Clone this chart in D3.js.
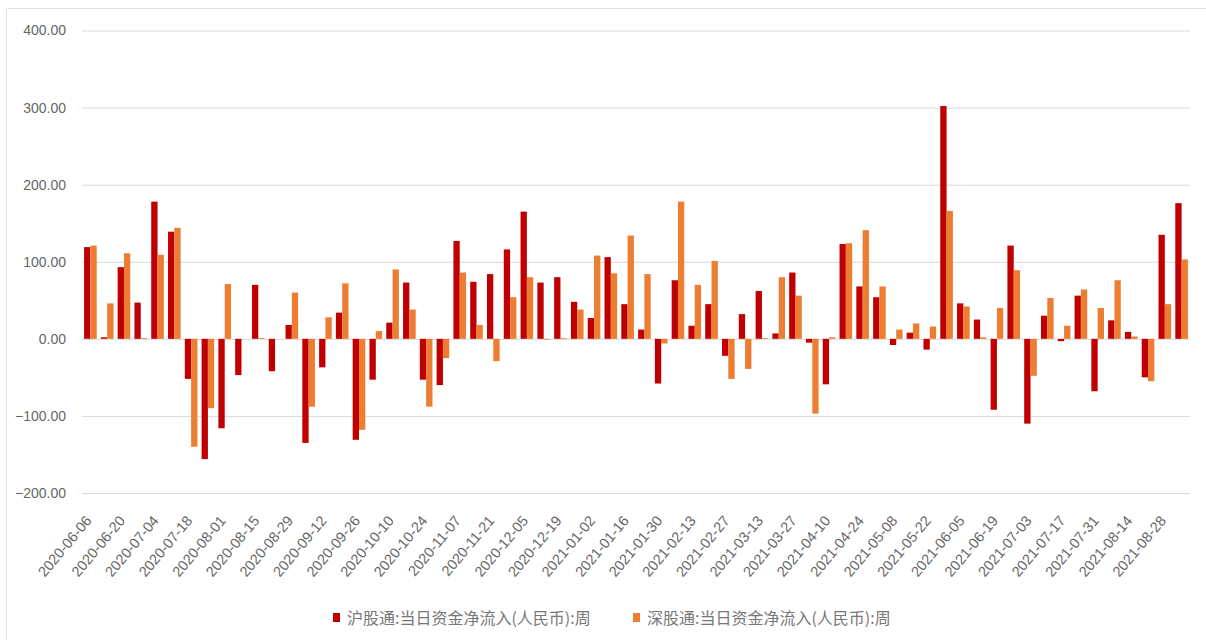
<!DOCTYPE html>
<html>
<head>
<meta charset="utf-8">
<script src="https://cdn.jsdelivr.net/npm/d3@7"></script>
<style>
  html, body { margin: 0; padding: 0; background: #fff; }
  svg { display: block; }
</style>
</head>
<body>
<svg id="chart" width="1206" height="640"></svg>
<script>
// weekly dates (category axis)
const weeks = [
  "2020-06-06", "2020-06-13", "2020-06-20", "2020-06-27", "2020-07-04", "2020-07-11",
  "2020-07-18", "2020-07-25", "2020-08-01", "2020-08-08", "2020-08-15", "2020-08-22",
  "2020-08-29", "2020-09-05", "2020-09-12", "2020-09-19", "2020-09-26", "2020-10-03",
  "2020-10-10", "2020-10-17", "2020-10-24", "2020-10-31", "2020-11-07", "2020-11-14",
  "2020-11-21", "2020-11-28", "2020-12-05", "2020-12-12", "2020-12-19", "2020-12-26",
  "2021-01-02", "2021-01-09", "2021-01-16", "2021-01-23", "2021-01-30", "2021-02-06",
  "2021-02-13", "2021-02-20", "2021-02-27", "2021-03-06", "2021-03-13", "2021-03-20",
  "2021-03-27", "2021-04-03", "2021-04-10", "2021-04-17", "2021-04-24", "2021-05-01",
  "2021-05-08", "2021-05-15", "2021-05-22", "2021-05-29", "2021-06-05", "2021-06-12",
  "2021-06-19", "2021-06-26", "2021-07-03", "2021-07-10", "2021-07-17", "2021-07-24",
  "2021-07-31", "2021-08-07", "2021-08-14", "2021-08-21", "2021-08-28", "2021-09-04"
];

// 沪股通 weekly net inflow
const shValues = [
  119, 2, 93, 47, 178, 139, -52, -156, -116, -47, 70, -42,
  18, -135, -37, 34, -131, -53, 21, 73, -53, -60, 127, 74,
  84, 116, 165, 73, 80, 48, 27, 106, 45, 12, -58, 76,
  17, 45, -22, 32, 62, 7, 86, -5, -59, 123, 68, 54,
  -8, 8, -14, 302, 46, 25, -92, 121, -110, 30, -3, 56,
  -68, 24, 9, -50, 135, 176
];

// 深股通 weekly net inflow
const szValues = [
  121, 46, 111, 1, 109, 144, -140, -90, 71, 0, 1, 0,
  60, -88, 28, 72, -118, 10, 90, 38, -88, -25, 86, 18,
  -29, 54, 80, -1, 1, 38, 108, 85, 134, 84, -6, 178,
  70, 101, -52, -39, 1, 80, 56, -97, 2, 124, 141, 68,
  12, 20, 16, 166, 42, 2, 40, 89, -48, 53, 17, 64,
  40, 76, 3, -55, 45, 103
];

const seriesNames = ["沪股通:当日资金净流入(人民币):周", "深股通:当日资金净流入(人民币):周"];
const seriesColors = ["#c00000", "#ed7d31"];
const yTicks = [-200, -100, 0, 100, 200, 300, 400];

const svg = d3.select("#chart");
const plotLeft = 82, plotRight = 1190, plotTop = 30.5, plotBottom = 493;

// light frame (top + left only visible)
svg.append("line").attr("x1", 6.5).attr("x2", 1206).attr("y1", 8.5).attr("y2", 8.5)
  .attr("stroke", "#e3e3e3");
svg.append("line").attr("x1", 6.5).attr("x2", 6.5).attr("y1", 8.5).attr("y2", 640)
  .attr("stroke", "#e3e3e3");

const x = d3.scaleBand().domain(weeks).range([plotLeft, plotRight]).paddingInner(0).paddingOuter(0);
const x1 = d3.scaleBand().domain([0, 1]).range([0, x.bandwidth()]).paddingInner(0).paddingOuter(0.33);
const y = d3.scaleLinear().domain([-200, 400]).range([plotBottom, plotTop]);

// gridlines + y labels
const yAxis = d3.axisLeft(y).tickValues(yTicks).tickFormat(d3.format(".2f"))
  .tickSize(-(plotRight - plotLeft)).tickPadding(16);
const gy = svg.append("g").attr("transform", `translate(${plotLeft},0)`).call(yAxis);
gy.select(".domain").remove();
gy.selectAll(".tick line").attr("stroke", "#d9d9d9").attr("stroke-width", 1);
gy.selectAll(".tick text")
  .attr("fill", "#666")
  .style("font-family", "'Liberation Sans', Arial, sans-serif")
  .style("font-size", "14px");

// bars
const rows = weeks.map((w, i) => ({ week: w, vals: [shValues[i], szValues[i]] }));
const groups = svg.append("g").selectAll("g").data(rows).join("g")
  .attr("transform", d => `translate(${x(d.week)},0)`);
groups.selectAll("rect").data(d => d.vals.map((v, k) => ({ k, v }))).join("rect")
  .attr("x", d => x1(d.k))
  .attr("width", x1.bandwidth())
  .attr("y", d => y(Math.max(0, d.v)))
  .attr("height", d => Math.abs(y(d.v) - y(0)))
  .attr("fill", d => seriesColors[d.k]);

// x labels, every second week, rotated
const gx = svg.append("g");
gx.selectAll("text").data(weeks.filter((w, i) => i % 2 === 0)).join("text")
  .attr("transform", d => `translate(${x(d) + x.bandwidth() / 2 + 2},521) rotate(-50)`)
  .attr("text-anchor", "end")
  .attr("fill", "#666")
  .style("font-family", "'Liberation Sans', Arial, sans-serif")
  .style("font-size", "14.5px")
  .text(d => d);

// legend
const legendX = [333, 633];
const lg = svg.append("g").selectAll("g").data(seriesNames).join("g")
  .attr("transform", (d, i) => `translate(${legendX[i]},618)`);
lg.append("rect").attr("x", 0).attr("y", -5).attr("width", 7).attr("height", 9)
  .attr("fill", (d, i) => seriesColors[i]);
lg.append("text").attr("x", 14).attr("dy", "0.35em")
  .attr("fill", "#777")
  .style("font-family", "'Noto Sans CJK SC', sans-serif")
  .style("font-size", "16px")
  .text(d => d);
</script>
</body>
</html>
